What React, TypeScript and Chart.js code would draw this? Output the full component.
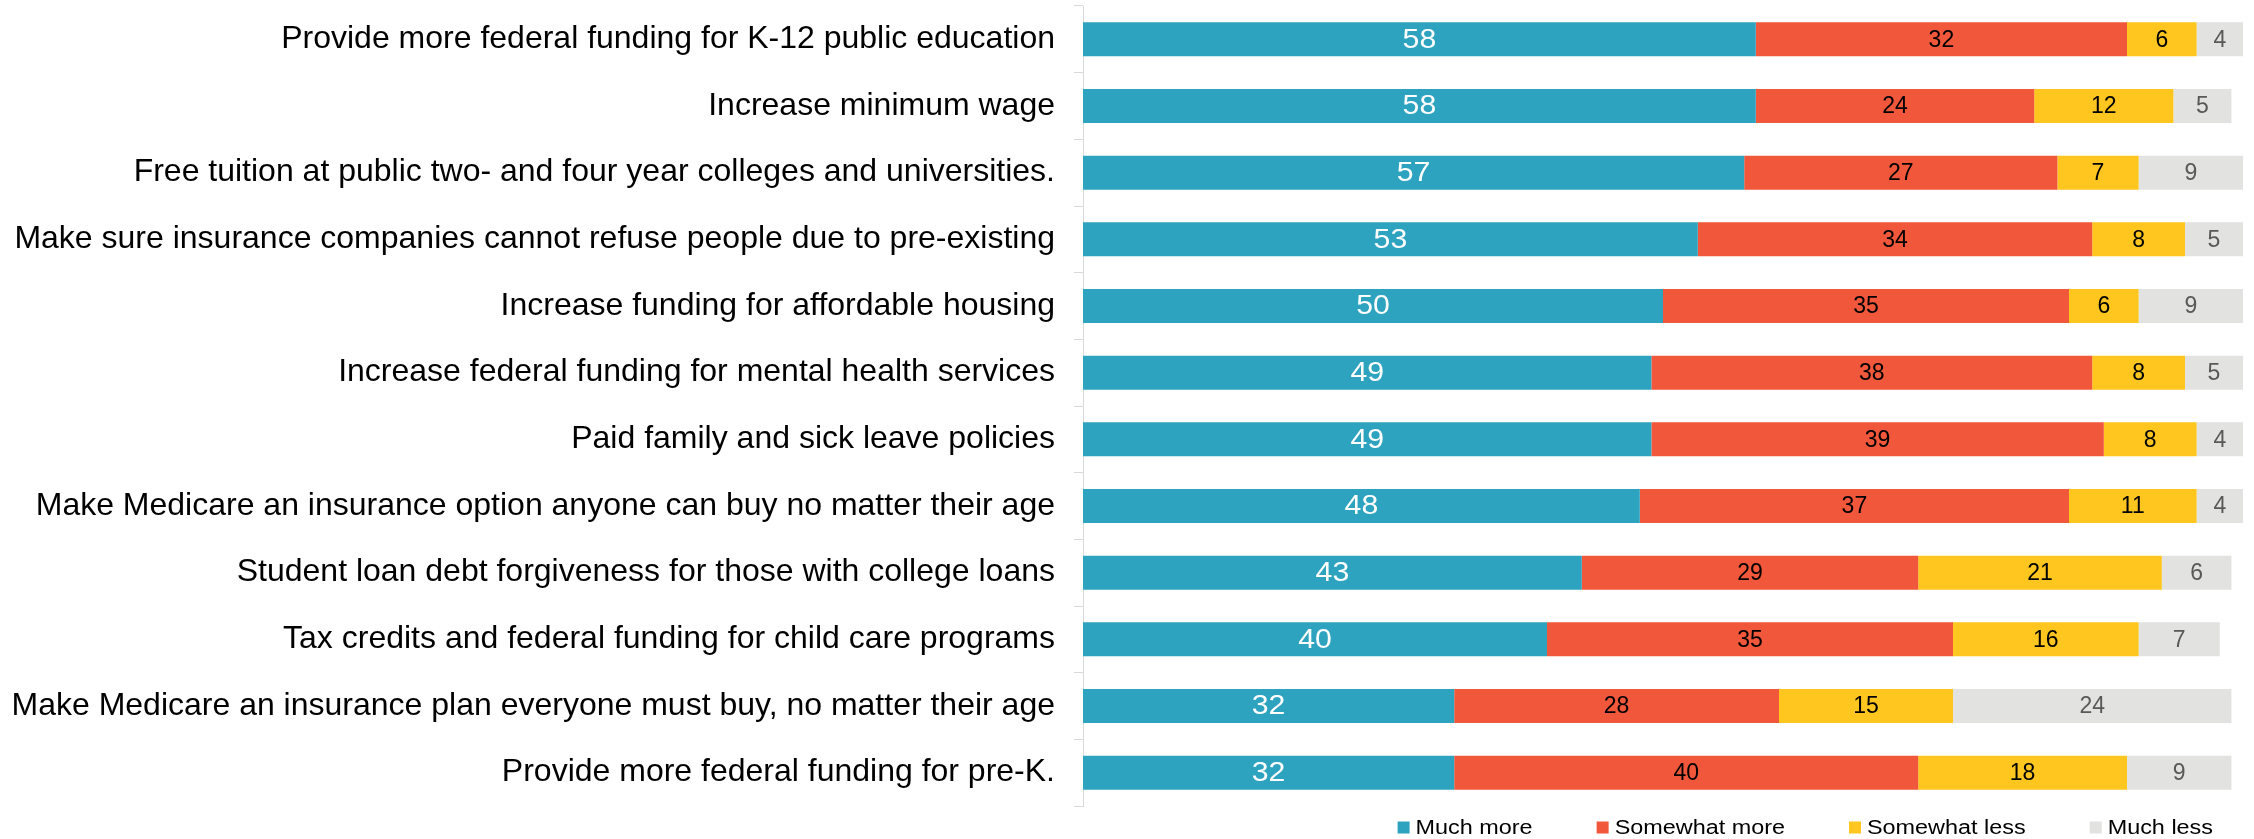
import React, { useEffect, useRef } from 'react';
import { Chart, registerables } from 'chart.js';

Chart.register(...registerables);

const FONT = '"Liberation Sans", Arial, sans-serif';

const categories = [
  'Provide more federal funding for K-12 public education',
  'Increase minimum wage',
  'Free tuition at public two- and four year colleges and universities.',
  'Make sure insurance companies cannot refuse people due to pre-existing',
  'Increase funding for affordable housing',
  'Increase federal funding for mental health services',
  'Paid family and sick leave policies',
  'Make Medicare an insurance option anyone can buy no matter their age',
  'Student loan debt forgiveness for those with college loans',
  'Tax credits and federal funding for child care programs',
  'Make Medicare an insurance plan everyone must buy, no matter their age',
  'Provide more federal funding for pre-K.',
];

const muchMore = [58, 58, 57, 53, 50, 49, 49, 48, 43, 40, 32, 32];
const somewhatMore = [32, 24, 27, 34, 35, 38, 39, 37, 29, 35, 28, 40];
const somewhatLess = [6, 12, 7, 8, 6, 8, 8, 11, 21, 16, 15, 18];
const muchLess = [4, 5, 9, 5, 9, 5, 4, 4, 6, 7, 24, 9];

const seriesNames = ['Much more', 'Somewhat more', 'Somewhat less', 'Much less'];
const seriesValues = [muchMore, somewhatMore, somewhatLess, muchLess];
const seriesColors = ['#2DA3BF', '#F1573A', '#FEC61F', '#E2E2E0'];
const labelColors = ['#FFFFFF', '#000000', '#000000', '#595959'];
const labelSizes = [27, 23, 23, 23];
const labelStretch = [1.12, 1, 1, 1];

const valueLabels = {
  id: 'valueLabels',
  afterDatasetsDraw(chart: any) {
    const ctx = chart.ctx;
    chart.data.datasets.forEach((ds: any, i: number) => {
      const meta = chart.getDatasetMeta(i);
      meta.data.forEach((bar: any, j: number) => {
        const v = ds.data[j];
        const { x, y, base } = bar.getProps(['x', 'y', 'base'], true);
        const cx = (x + base) / 2;
        ctx.save();
        ctx.translate(cx, y + 1);
        ctx.scale(labelStretch[i], 1);
        ctx.font = `${labelSizes[i]}px ${FONT}`;
        ctx.fillStyle = labelColors[i];
        ctx.textAlign = 'center';
        ctx.textBaseline = 'middle';
        ctx.fillText(String(v), 0, 0);
        ctx.restore();
      });
    });
  },
};

const customLegend = {
  id: 'customLegend',
  afterDraw(chart: any) {
    const ctx = chart.ctx;
    ctx.save();
    const fontSize = 20;
    const stretch = 1.17;
    ctx.font = `${fontSize}px ${FONT}`;
    const box = 12;
    const gap = 6;
    const spacing = 64;
    const widths = seriesNames.map((n) => box + gap + ctx.measureText(n).width * stretch);
    const total = widths.reduce((a, b) => a + b, 0) + spacing * (widths.length - 1);
    let x = chart.chartArea.right - 30 - total;
    const y = chart.chartArea.bottom + 21.5;
    seriesNames.forEach((n, i) => {
      ctx.fillStyle = seriesColors[i];
      ctx.fillRect(x, y - box / 2, box, box);
      ctx.save();
      ctx.translate(x + box + gap, y + 1);
      ctx.scale(stretch, 1);
      ctx.fillStyle = '#000000';
      ctx.textAlign = 'left';
      ctx.textBaseline = 'middle';
      ctx.fillText(n, 0, 0);
      ctx.restore();
      x += widths[i] + spacing;
    });
    ctx.restore();
  },
};

export default function App() {
  const canvasRef = useRef<HTMLCanvasElement | null>(null);

  useEffect(() => {
    const canvas = canvasRef.current;
    if (!canvas) return;
    const chart = new Chart(canvas, {
      type: 'bar',
      data: {
        labels: categories,
        datasets: seriesNames.map((name, i) => ({
          label: name,
          data: seriesValues[i],
          backgroundColor: seriesColors[i],
          borderWidth: 0,
          barPercentage: 0.51,
          categoryPercentage: 1,
        })),
      },
      options: {
        indexAxis: 'y',
        responsive: false,
        animation: false,
        layout: { padding: { left: 0, right: 11, top: 6, bottom: 33 } },
        plugins: {
          legend: { display: false },
          tooltip: { enabled: false },
          title: { display: false },
        },
        scales: {
          x: {
            stacked: true,
            min: 0,
            max: 100,
            display: false,
          },
          y: {
            stacked: true,
            afterFit: (scale: any) => {
              scale.width = 1083;
              scale.paddingTop = 0;
              scale.paddingBottom = 0;
            },
            grid: {
              offset: true,
              drawOnChartArea: false,
              drawTicks: true,
              tickLength: 9,
              color: '#D9D9D9',
            },
            border: { display: true, color: '#D9D9D9', width: 1 },
            ticks: {
              color: '#000000',
              padding: 19,
              autoSkip: false,
              font: { family: FONT, size: 32 },
            },
          },
        },
      },
      plugins: [valueLabels, customLegend],
    });
    return () => chart.destroy();
  }, []);

  return (
    <div style={{ position: 'absolute', left: 0, top: 0, width: 2254, height: 839, background: '#FFFFFF' }}>
      <canvas ref={canvasRef} width={2254} height={839} style={{ display: 'block' }} />
    </div>
  );
}
